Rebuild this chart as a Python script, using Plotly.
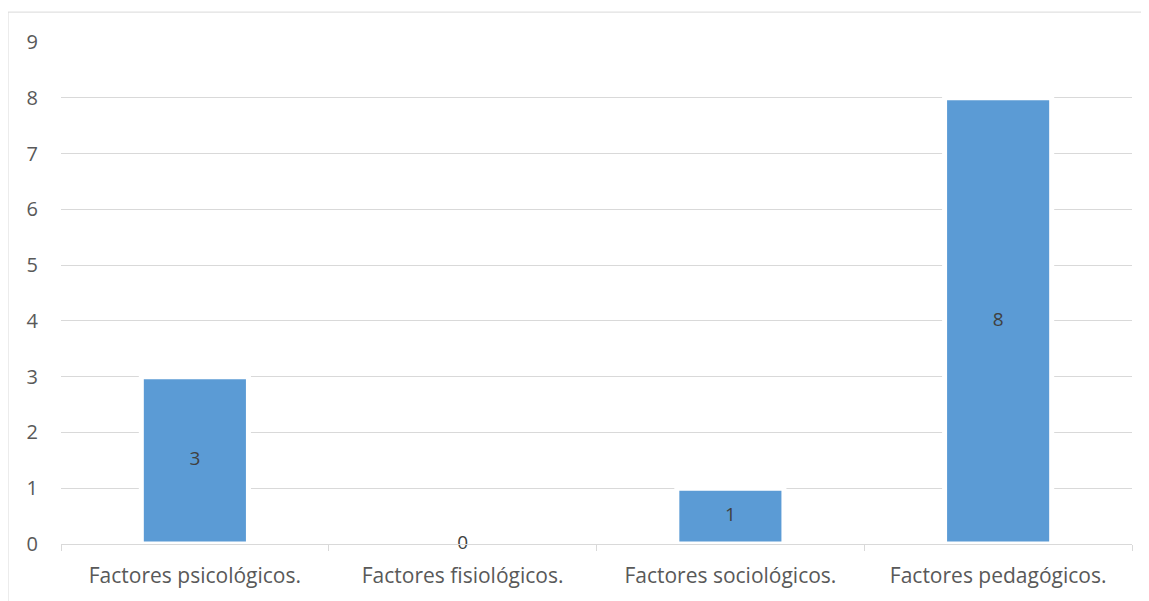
import plotly.graph_objects as go

categories = ["Factores psicológicos.", "Factores fisiológicos.", "Factores sociológicos.", "Factores pedagógicos."]
values = [3, 0, 1, 8]
y_ticks = [0, 1, 2, 3, 4, 5, 6, 7, 8, 9]

# page has an 8px body margin, so the figure is sized to fit inside it
W, H = 1141, 593
ml, mr, mt, mb = 53, 17, 34, 55
pw = W - ml - mr
ph = H - mt - mb

fig = go.Figure()
fig.add_trace(go.Bar(
    x=categories, y=values,
    marker=dict(color="#5B9BD5", line=dict(color="white", width=5)),
    width=0.4,
    hoverinfo="skip",
))
fig.add_trace(go.Scatter(
    x=categories, y=[v / 2 for v in values],
    mode="text", text=[str(v) for v in values],
    textfont=dict(family="Open Sans", size=19, color="#404040"),
    textposition="middle center",
    hoverinfo="skip", cliponaxis=False,
))

fig.update_layout(
    width=W, height=H,
    margin=dict(l=ml, r=mr, t=mt, b=mb, pad=0),
    paper_bgcolor="white", plot_bgcolor="white",
    showlegend=False,
    bargap=0.6,
    font=dict(family="Open Sans", size=21, color="#595959"),
    xaxis=dict(
        showline=True, linecolor="#D9D9D9", linewidth=1,
        ticks="outside", tickson="boundaries", ticklen=6, tickcolor="#D9D9D9",
        showgrid=False, ticklabelstandoff=13,
        tickfont=dict(size=21, color="#595959"),
    ),
    yaxis=dict(
        range=[0, 9], tickvals=y_ticks,
        showgrid=True, gridcolor="#D9D9D9", gridwidth=1,
        zeroline=False, showline=False, ticks="",
        ticklabelstandoff=22,
        tickfont=dict(size=20, color="#595959"),
    ),
    shapes=[dict(
        type="rect", xref="paper", yref="paper",
        x0=-ml / pw, x1=1.2, y0=-0.3, y1=(mt + ph - 4) / ph,
        line=dict(color="#D9D9D9", width=1), fillcolor="rgba(0,0,0,0)", layer="below",
    )],
)

fig.write_html("out.html")
